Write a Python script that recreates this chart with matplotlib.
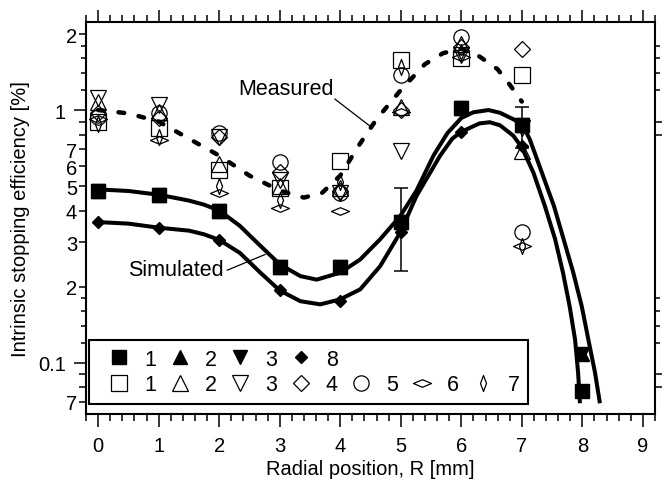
import numpy as np
import matplotlib
matplotlib.use("Agg")
import matplotlib.pyplot as plt
from matplotlib.lines import Line2D
from matplotlib.ticker import FixedLocator, FixedFormatter, MultipleLocator, NullFormatter

plt.rcParams["font.family"] = ["Liberation Sans", "DejaVu Sans"]

# --- simulated (filled markers) ---
x_sim = [0, 1, 2, 3, 4, 5, 6, 7, 8]
sim1 = [0.48, 0.46, 0.40, 0.24, 0.24, 0.36, 1.02, 0.87, 0.077]
sim2 = [0.48, 0.46, 0.40, 0.24, 0.24, 0.36, 1.02, 0.87, 0.108]
sim3 = [0.48, 0.46, 0.40, 0.24, 0.24, 0.36, 1.02, 0.87, 0.108]
x_sim8 = [0, 1, 2, 3, 4, 5, 6, 7]
sim8 = [0.36, 0.34, 0.305, 0.193, 0.176, 0.33, 0.82, 0.72]
err_x = [5, 7]
err_y = [0.36, 0.87]
err_v = [0.13, 0.16]

# --- measured (open markers) ---
x_meas = [0, 1, 2, 3, 4, 5, 6, 7]
meas1 = [0.90, 0.85, 0.58, 0.49, 0.63, 1.58, 1.60, 1.38]
meas2 = [1.08, 0.98, 0.61, 0.50, 0.49, 1.03, 1.82, 0.69]
meas3 = [1.12, 1.05, 0.78, 0.53, 0.47, 0.69, 1.65, 0.85]
meas4 = [0.97, 0.93, 0.78, 0.57, 0.48, 1.00, 1.78, 1.75]
meas5 = [0.94, 0.97, 0.81, 0.62, 0.47, 1.38, 1.95, 0.33]
meas6 = [0.92, 0.76, 0.47, 0.41, 0.40, 0.98, 1.62, 0.29]
meas7 = [0.88, 0.78, 0.50, 0.44, 0.52, 1.48, 1.70, 0.29]

# --- guide curves ---
fit_up_x = [0, 0.5, 1, 1.5, 1.75, 2, 2.34, 2.68, 3.0, 3.34, 3.61, 4.0, 4.33, 4.66, 4.99,
            5.26, 5.54, 5.77, 6.0, 6.2, 6.45, 6.64, 6.91, 7.01, 7.13, 7.33, 7.53, 7.69,
            7.85, 7.99, 8.1, 8.21, 8.29]
fit_up_y = [0.485, 0.478, 0.462, 0.438, 0.422, 0.40, 0.348, 0.29, 0.245, 0.22, 0.213,
            0.227, 0.256, 0.308, 0.38, 0.48, 0.66, 0.81, 0.93, 0.98, 1.0, 0.975, 0.907,
            0.872, 0.767, 0.566, 0.417, 0.308, 0.227, 0.167, 0.123, 0.091, 0.069]
fit_lo_x = [0, 0.5, 1, 1.5, 1.75, 2, 2.34, 2.68, 3.0, 3.34, 3.67, 4.0, 4.33, 4.66, 4.99,
            5.26, 5.65, 5.85, 6.0, 6.3, 6.47, 6.64, 6.86, 7.0, 7.19, 7.38, 7.55, 7.68,
            7.79, 7.88, 7.93, 7.96]
fit_lo_y = [0.36, 0.355, 0.342, 0.333, 0.322, 0.306, 0.272, 0.227, 0.193, 0.175, 0.170,
            0.178, 0.195, 0.241, 0.327, 0.457, 0.66, 0.77, 0.82, 0.885, 0.895, 0.87,
            0.791, 0.711, 0.566, 0.417, 0.308, 0.227, 0.167, 0.123, 0.091, 0.069]
meas_line_x = [0, 0.5, 1, 1.5, 2, 2.5, 3, 3.4, 3.7, 4, 4.3, 4.6, 5, 5.4, 5.7, 6, 6.3, 6.6, 6.8, 7]
meas_line_y = [1.0, 0.97, 0.9, 0.77, 0.66, 0.55, 0.48, 0.45, 0.47, 0.55, 0.72, 0.92, 1.2,
               1.52, 1.68, 1.75, 1.63, 1.45, 1.26, 1.08]

y_major = [0.1, 1]
y_major_lbl = ["0.1", "1"]
y_minor = [0.07, 0.2, 0.3, 0.4, 0.5, 0.6, 0.7, 2]
y_minor_lbl = ["7", "2", "3", "4", "5", "6", "7", "2"]
y_extra = [0.08, 0.09, 0.8, 0.9]
y_half = [0.12, 0.14, 0.16, 0.18, 1.2, 1.4, 1.6, 1.8]

wide_dia = [(-1, 0), (0, 0.42), (1, 0), (0, -0.42), (-1, 0)]
thin_dia = [(-0.38, 0), (0, 1), (0.38, 0), (0, -1), (-0.38, 0)]

fig = plt.figure(figsize=(6.67, 4.81), dpi=100)
ax = fig.add_axes([0.129, 0.137, 0.853, 0.815])
ax.set_yscale("log")

mew = 0.9
op = dict(linestyle="none", markerfacecolor="none", markeredgecolor="black", markeredgewidth=mew, zorder=2)
s_o1 = dict(marker="s", markersize=12, **op)
s_o2 = dict(marker="^", markersize=12, **op)
s_o3 = dict(marker="v", markersize=12, **op)
s_o4 = dict(marker="D", markersize=8.5, **op)
s_o5 = dict(marker="o", markersize=11, **op)
s_o6 = dict(marker=wide_dia, markersize=13, **op)
s_o7 = dict(marker=thin_dia, markersize=11.5, **op)

ax.plot(x_meas, meas1, **s_o1)
ax.plot(x_meas, meas2, **s_o2)
ax.plot(x_meas, meas3, **s_o3)
ax.plot(x_meas, meas4, **s_o4)
ax.plot(x_meas, meas5, **s_o5)
ax.plot(x_meas, meas6, **s_o6)
ax.plot(x_meas, meas7, **s_o7)

ax.plot(meas_line_x, meas_line_y, color="black", lw=3.2, linestyle=(0, (1.3, 3.3)),
        dash_capstyle="round", zorder=3)
ax.plot(fit_up_x, fit_up_y, color="black", lw=2.9, solid_capstyle="butt",
        solid_joinstyle="round", zorder=3)
ax.plot(fit_lo_x, fit_lo_y, color="black", lw=2.9, solid_capstyle="butt",
        solid_joinstyle="round", zorder=3)

fl = dict(linestyle="none", color="black", zorder=4)
s_f1 = dict(marker="s", markersize=9.5, **fl)
s_f2 = dict(marker="^", markersize=9.5, **fl)
s_f3 = dict(marker="v", markersize=9.5, **fl)
s_f8 = dict(marker="D", markersize=6.5, **fl)
ax.errorbar(err_x, err_y, yerr=err_v, fmt="none", ecolor="black", elinewidth=1.1,
            capsize=5, capthick=1.1, zorder=4)
ax.plot(x_sim, sim2, **s_f2)
ax.plot(x_sim, sim3, **s_f3)
ax.plot(x_sim, sim1, **s_f1)
ax.plot(x_sim8, sim8, **s_f8)

ax.text(2.31, 1.22, "Measured", fontsize=15.5, ha="left", va="center")
ax.annotate("", xy=(4.49, 0.864), xytext=(3.91, 1.106),
            arrowprops=dict(arrowstyle="-", lw=0.9, shrinkA=0, shrinkB=0))
ax.text(0.495, 0.234, "Simulated", fontsize=15.5, ha="left", va="center")
ax.annotate("", xy=(2.76, 0.268), xytext=(2.13, 0.232),
            arrowprops=dict(arrowstyle="-", lw=0.9, shrinkA=0, shrinkB=0))

ax.set_xlim(-0.2, 9.2)
ax.set_ylim(0.0625, 2.23)
ax.xaxis.set_major_locator(MultipleLocator(1))
ax.xaxis.set_minor_locator(MultipleLocator(0.2))
ax.yaxis.set_major_locator(FixedLocator(y_major))
ax.yaxis.set_major_formatter(FixedFormatter(y_major_lbl))
ax.yaxis.set_minor_locator(FixedLocator(y_minor))
ax.yaxis.set_minor_formatter(FixedFormatter(y_minor_lbl))

ax.tick_params(axis="both", which="both", direction="out", top=True, right=True,
               labeltop=False, labelright=False, width=1.1, labelsize=14.5)
ax.tick_params(axis="x", which="major", length=9, pad=6.5)
ax.tick_params(axis="x", which="minor", length=5)
ax.tick_params(axis="y", which="major", length=9, pad=5.5)
ax.tick_params(axis="y", which="minor", length=5, pad=1.5)
for sp in ax.spines.values():
    sp.set_linewidth(1.5)

ax2 = ax.twinx()
ax2.set_yscale("log")
ax2.set_ylim(ax.get_ylim())
ax2.yaxis.set_major_locator(FixedLocator(y_extra))
ax2.yaxis.set_major_formatter(NullFormatter())
ax2.yaxis.set_minor_locator(FixedLocator(y_half))
ax2.yaxis.set_minor_formatter(NullFormatter())
ax2.tick_params(axis="y", which="both", direction="out", left=True, right=True,
                labelleft=False, labelright=False, width=1.1)
ax2.tick_params(axis="y", which="major", length=5)
ax2.tick_params(axis="y", which="minor", length=3.5)
for sp in ax2.spines.values():
    sp.set_visible(False)

ax.set_xlabel("Radial position, R [mm]", fontsize=14.5, labelpad=3)
ax.set_ylabel("Intrinsic stopping efficiency [%]", fontsize=14.5, labelpad=6)

blank = Line2D([], [], linestyle="none")
h = [Line2D([], [], **s_f1), Line2D([], [], **s_o1),
     Line2D([], [], **s_f2), Line2D([], [], **s_o2),
     Line2D([], [], **s_f3), Line2D([], [], **s_o3),
     Line2D([], [], **s_f8), Line2D([], [], **s_o4),
     blank, Line2D([], [], **s_o5),
     blank, Line2D([], [], **s_o6),
     blank, Line2D([], [], **s_o7)]
lbl = ["1", "1", "2", "2", "3", "3", "8", "4", "", "5", "", "6", "", "7"]
leg = ax.legend(h, lbl, ncol=7, loc="lower left", bbox_to_anchor=(0.005, 0.0255),
                borderaxespad=0, fontsize=15.5, handlelength=2.0, handletextpad=0.16,
                columnspacing=0.1, labelspacing=0.23, borderpad=0.4, fancybox=False,
                framealpha=1, edgecolor="black")
leg.get_frame().set_linewidth(1.5)
leg.set_zorder(5)

fig.savefig("out.png", dpi=100)
